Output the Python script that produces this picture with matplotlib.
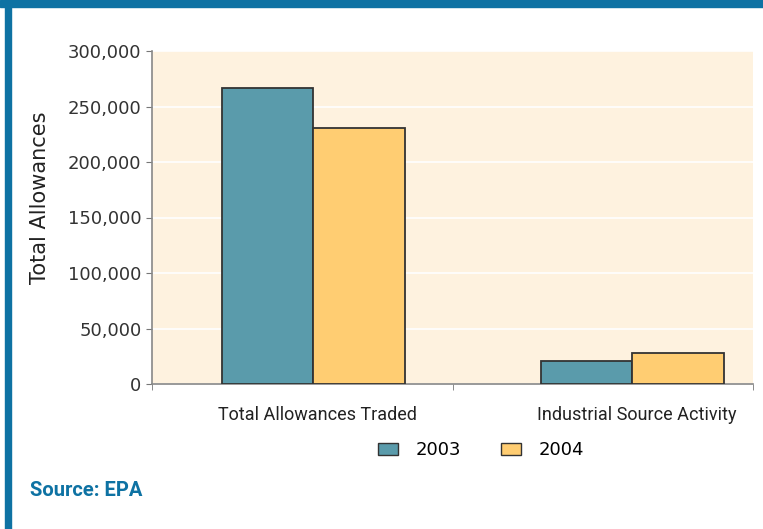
import matplotlib
matplotlib.use("Agg")
from matplotlib import pyplot as plt
from matplotlib.patches import Rectangle, Patch

# datos
categorias = ["Total Allowances Traded", "Industrial Source Activity"]
anios = ["2003", "2004"]
valores_2003 = [267000, 21000]
valores_2004 = [231000, 28000]
yticks = [0, 50000, 100000, 150000, 200000, 250000, 300000]

azul = "#0e72a3"
c2003 = "#5a9bab"
c2004 = "#ffcd72"
fondo = "#fef2df"

fig = plt.figure(figsize=(7.63, 5.29), dpi=100)

# marco azul (arriba e izquierda)
fig.patches.append(Rectangle((0, 1 - 7 / 529), 1, 7 / 529, transform=fig.transFigure,
                             color=azul, zorder=0))
fig.patches.append(Rectangle((5 / 763, 0), 6 / 763, 1, transform=fig.transFigure,
                             color=azul, zorder=0))

ax = fig.add_axes([152 / 763, 1 - 384 / 529, 601 / 763, 333 / 529])
ax.set_facecolor(fondo)

centros = [0.537, 1.599]
ancho = 0.304
ax.bar([c - ancho / 2 for c in centros], valores_2003, ancho, color=c2003,
       edgecolor="#333333", linewidth=1.3, zorder=3)
ax.bar([c + ancho / 2 for c in centros], valores_2004, ancho, color=c2004,
       edgecolor="#333333", linewidth=1.3, zorder=3)

ax.set_xlim(0, 2)
ax.set_ylim(0, 300000)
ax.set_yticks(yticks)
ax.set_yticklabels(["{:,}".format(v) for v in yticks])
ax.grid(axis="y", color="white", linewidth=1.2, zorder=1)
ax.set_axisbelow(True)

ax.set_xticks([c + 0.015 for c in centros])
ax.set_xticklabels(categorias)
ax.set_xticks([0, 1, 2], minor=True)
ax.tick_params(axis="x", which="major", length=0, pad=16)
ax.tick_params(axis="x", which="minor", length=4.5, color="#777777")
ax.tick_params(axis="y", length=4.5, color="#777777", pad=3)

for lab in ax.get_xticklabels():
    lab.set_fontsize(13)
    lab.set_color("#222222")
    lab.set_family("Roboto")
for lab in ax.get_yticklabels():
    lab.set_fontsize(13)
    lab.set_color("#333333")

for s in ["top", "right"]:
    ax.spines[s].set_visible(False)
ax.spines["left"].set_color("#888888")
ax.spines["bottom"].set_color("#888888")
ax.spines["left"].set_linewidth(1.2)
ax.spines["bottom"].set_linewidth(1.2)

ax.set_ylabel("Total Allowances", fontsize=15, color="#222222")
ax.yaxis.set_label_coords(-0.17, 0.56)

handles = [Patch(facecolor=c2003, edgecolor="#333333"),
           Patch(facecolor=c2004, edgecolor="#333333")]
fig.legend(handles, anios, loc="center", bbox_to_anchor=(481 / 763, 1 - 450 / 529),
           ncol=2, frameon=False, fontsize=13, handlelength=1.1, handleheight=0.67,
           columnspacing=2.2, handletextpad=1.0)

fig.text(30 / 763, 1 - 490 / 529, "Source: EPA", fontsize=14.5, fontweight="bold",
         color=azul, va="center", ha="left", family="Roboto")

fig.savefig("out.png", dpi=100)
